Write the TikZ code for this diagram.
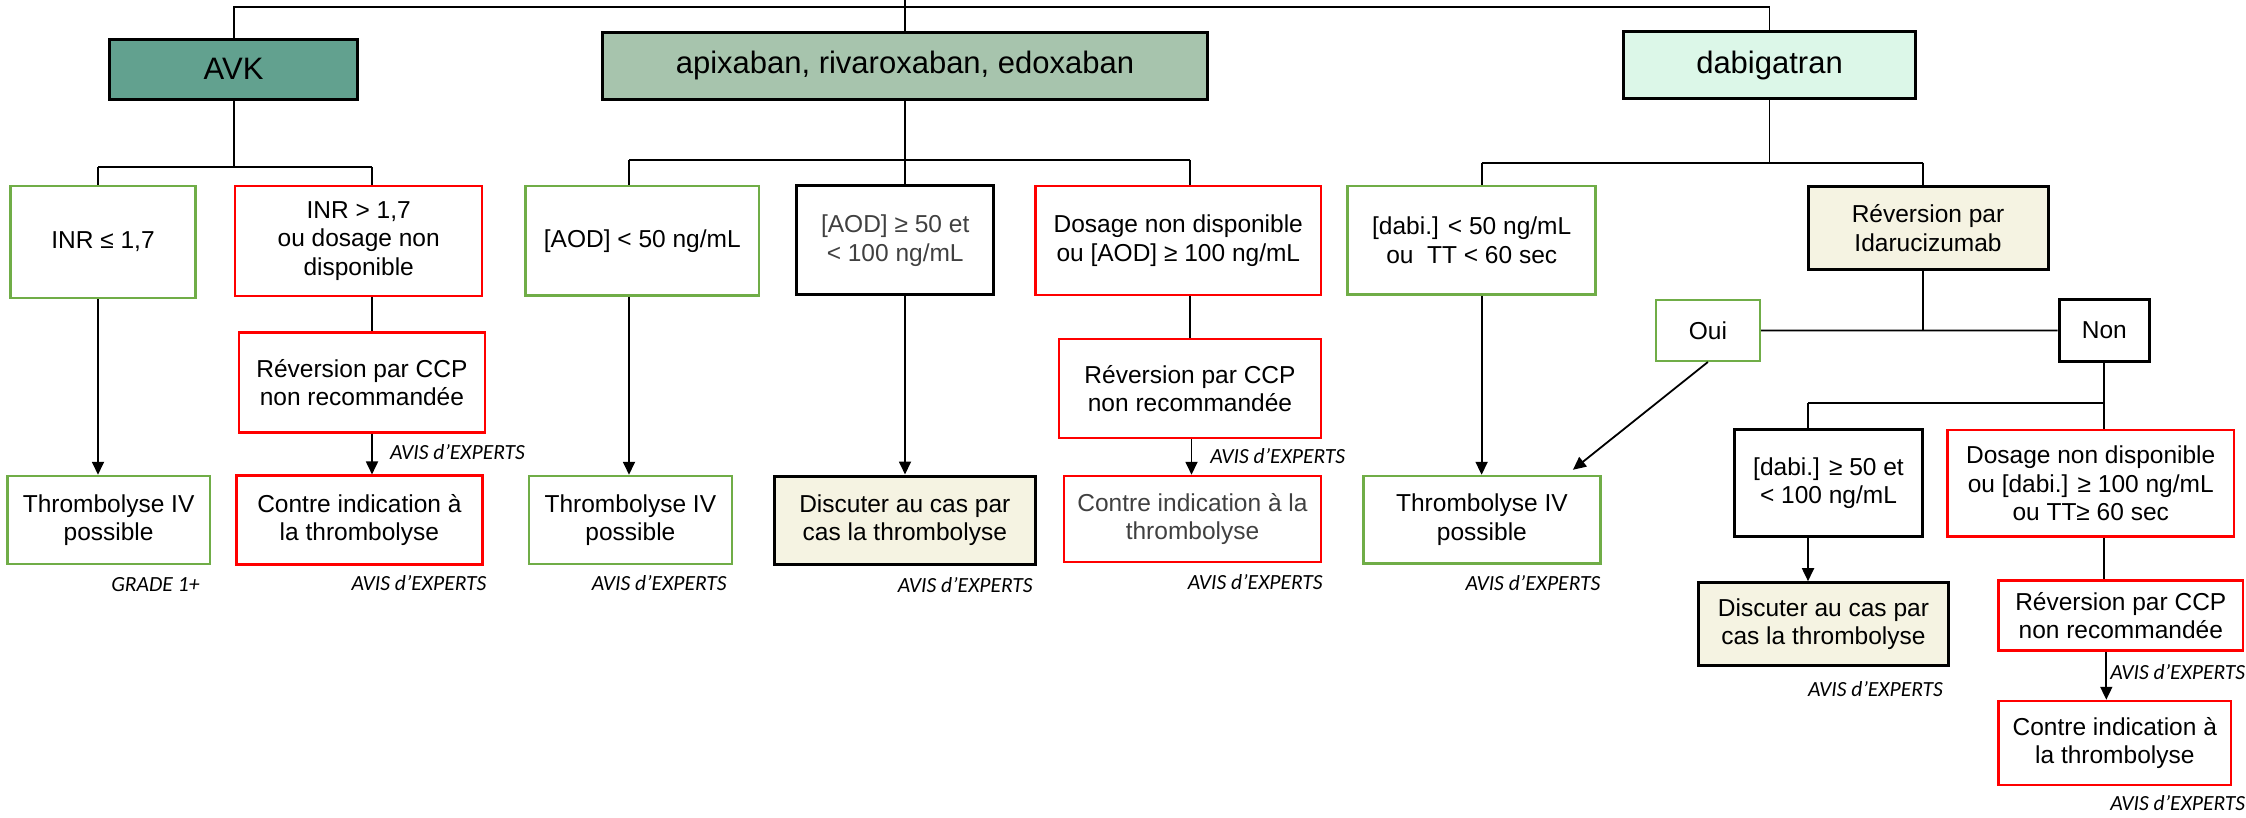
\documentclass[tikz,border=0pt]{standalone}
\usepackage{fontspec}
\setmainfont{Liberation Sans}
\newfontfamily\notefont{Carlito}
\usetikzlibrary{arrows.meta}

\definecolor{avkfill}{HTML}{62A18F}
\definecolor{apixfill}{HTML}{A7C4AD}
\definecolor{dabifill}{HTML}{DCF7E8}
\definecolor{discfill}{HTML}{F5F3E2}
\definecolor{okgreen}{HTML}{70AD47}
\definecolor{stopred}{HTML}{FF0000}
\definecolor{softtext}{HTML}{404040}

\begin{document}
\begin{tikzpicture}[x=1pt,y=-1pt,
  box/.style={draw, line width=2.5pt, align=center, inner sep=2pt,
    font=\fontsize{24.5}{28.5}\selectfont},
  okbox/.style={box, draw=okgreen},
  nobox/.style={box, draw=stopred},
  plainbox/.style={box, draw=black, line width=3pt},
  head/.style={draw=black, line width=3pt, inner sep=2pt,
    font=\fontsize{31}{36}\selectfont},
  link/.style={line width=1.8pt},
  arr/.style={link, -{Triangle[length=13pt,width=12pt]}},
  note/.style={inner sep=0pt, font=\notefont\itshape\fontsize{21.6}{24}\selectfont}
]
\useasboundingbox (0,0) rectangle (2246,818);

% --- headers ---
\node[head, fill=avkfill, minimum width=248pt, minimum height=60pt] (avk) at (233.6,69.3) {AVK};
\node[head, fill=apixfill, minimum width=605pt, minimum height=67pt] (apix) at (905,65.7) {apixaban, rivaroxaban, edoxaban};
\node[head, fill=dabifill, minimum width=292pt, minimum height=67pt] (dabi) at (1769.5,65.2) {dabigatran};

% --- AVK branch ---
\node[okbox, minimum width=184.6pt, minimum height=112pt] (inrle) at (103,242) {INR ≤ 1,7};
\node[nobox, minimum width=247pt, minimum height=110pt] (inrgt) at (358.7,241) {INR > 1,7\\ou dosage non\\disponible};
\node[nobox, minimum width=245.7pt, minimum height=99.6pt] (rev1) at (361.9,382.5) {Réversion par CCP\\non recommandée};
\node[okbox, minimum width=202.6pt, minimum height=88pt] (thr1) at (108.6,520) {Thrombolyse IV\\possible};
\node[nobox, minimum width=245.8pt, minimum height=88.6pt] (ci1) at (359.4,520) {Contre indication à\\la thrombolyse};

% --- apixaban / rivaroxaban / edoxaban branch ---
\node[okbox, minimum width=233.5pt, minimum height=109.7pt] (aod1) at (642.3,240.9) {[AOD] < 50 ng/mL};
\node[plainbox, text=softtext, minimum width=197.3pt, minimum height=109pt] (aod2) at (895.2,240.5) {[AOD] ≥ 50 et\\< 100 ng/mL};
\node[nobox, minimum width=285.5pt, minimum height=109pt] (aod3) at (1178.3,240.5) {Dosage non disponible\\ou [AOD] ≥ 100 ng/mL};
\node[nobox, minimum width=262pt, minimum height=99pt] (rev2) at (1190,388.5) {Réversion par CCP\\non recommandée};
\node[okbox, minimum width=203.2pt, minimum height=88pt] (thr2) at (630.4,520) {Thrombolyse IV\\possible};
\node[plainbox, fill=discfill, minimum width=261.5pt, minimum height=88pt] (disc1) at (904.8,520) {Discuter au cas par\\cas la thrombolyse};
\node[nobox, text=softtext, minimum width=257pt, minimum height=86pt] (ci2) at (1192.5,519) {Contre indication à la\\thrombolyse};

% --- dabigatran branch ---
\node[okbox, minimum width=248pt, minimum height=108.7pt] (dabi1) at (1471.7,240.4) {[dabi.] < 50 ng/mL\\ou\ \ TT < 60 sec};
\node[plainbox, fill=discfill, minimum width=240pt, minimum height=83.3pt] (idaru) at (1928,228.3) {Réversion par\\Idarucizumab};
\node[okbox, minimum width=103.7pt, minimum height=60.7pt] (oui) at (1707.9,330.4) {Oui};
\node[plainbox, minimum width=90.5pt, minimum height=61pt] (non) at (2104.3,330.5) {Non};
\node[okbox, minimum width=237.2pt, minimum height=87.3pt] (thr3) at (1481.9,519.7) {Thrombolyse IV\\possible};
\node[plainbox, minimum width=188.2pt, minimum height=106.7pt] (dabi2) at (1828.5,483.3) {[dabi.] ≥ 50 et\\< 100 ng/mL};
\node[nobox, minimum width=286.6pt, minimum height=106.7pt] (dabi3) at (2090.7,483.3) {Dosage non disponible\\ou [dabi.] ≥ 100 ng/mL\\ou TT≥ 60 sec};
\node[plainbox, fill=discfill, minimum width=249.2pt, minimum height=83pt] (disc2) at (1823.4,624.2) {Discuter au cas par\\cas la thrombolyse};
\node[nobox, minimum width=244.4pt, minimum height=70.4pt] (rev3) at (2120.8,615.5) {Réversion par CCP\\non recommandée};
\node[nobox, minimum width=232.4pt, minimum height=84pt] (ci3) at (2114.8,743) {Contre indication à\\la thrombolyse};

% --- evidence levels ---
\node[note] (n1) at (155.4,585) {GRADE 1+};
\node[note] (n2) at (457.5,452) {AVIS d’EXPERTS};
\node[note] (n3) at (419,583) {AVIS d’EXPERTS};
\node[note] (n4) at (659.3,583) {AVIS d’EXPERTS};
\node[note] (n5) at (965.3,585) {AVIS d’EXPERTS};
\node[note] (n6) at (1277.8,455.7) {AVIS d’EXPERTS};
\node[note] (n7) at (1255.3,581.7) {AVIS d’EXPERTS};
\node[note] (n8) at (1532.9,583) {AVIS d’EXPERTS};
\node[note] (n9) at (1875.5,689) {AVIS d’EXPERTS};
\node[note] (n10) at (2177.8,672.3) {AVIS d’EXPERTS};
\node[note] (n11) at (2177.8,803.3) {AVIS d’EXPERTS};

% --- junction points ---
\coordinate (topL) at (233.6,7.3);
\coordinate (topR) at (1769.5,7.3);
\coordinate (rootA) at (905,0);
\coordinate (avkL) at (98,167);
\coordinate (avkR) at (372,167);
\coordinate (apL) at (629,160);
\coordinate (apR) at (1190,160);
\coordinate (dbL) at (1481.6,162.7);
\coordinate (dbR) at (1922.6,162.7);
\coordinate (nnL) at (1808,402.7);

% --- top bar ---
\draw[link] (avk.north) -- (topL) -- (topR) -- (dabi.north);
\draw[link] (rootA) -- (apix.north);

% --- AVK connectors ---
\draw[link] (avk.south) -- (avk.south |- avkL);
\draw[link] (avkL) -- (avkR);
\draw[link] (avkL) -- (avkL |- inrle.north);
\draw[link] (avkR) -- (avkR |- inrgt.north);
\draw[arr] (avkL |- inrle.south) -- (avkL |- thr1.north);
\draw[link] (avkR |- inrgt.south) -- (avkR |- rev1.north);
\draw[arr] (avkR |- rev1.south) -- (avkR |- ci1.north);

% --- anti-Xa connectors ---
\draw[link] (apix.south) -- (apix.south |- aod2.north);
\draw[link] (apL) -- (apR);
\draw[link] (apL) -- (apL |- aod1.north);
\draw[link] (apR) -- (apR |- aod3.north);
\draw[arr] (apL |- aod1.south) -- (apL |- thr2.north);
\draw[arr] (apix.south |- aod2.south) -- (apix.south |- disc1.north);
\draw[link] (apR |- aod3.south) -- (apR |- rev2.north);
\draw[arr] ([xshift=1.5pt]apR |- rev2.south) -- ([xshift=1.5pt]apR |- ci2.north);

% --- dabigatran connectors ---
\draw[link] (dabi.south) -- (dabi.south |- dbL);
\draw[link] (dbL) -- (dbR);
\draw[link] (dbL) -- (dbL |- dabi1.north);
\draw[link] (dbR) -- (dbR |- idaru.north);
\draw[arr] (dbL |- dabi1.south) -- (dbL |- thr3.north);
\draw[link] (dbR |- idaru.south) -- (dbR |- oui.east);
\draw[link] (oui.east) -- (non.west);
\draw[arr] (oui.south) -- ([xshift=91pt,yshift=5pt]thr3.north);
\draw[link] (non.south) -- (non.south |- nnL);
\draw[link] (nnL) -- (non.south |- nnL);
\draw[link] (nnL) -- (nnL |- dabi2.north);
\draw[link] (non.south |- nnL) -- (non.south |- dabi3.north);
\draw[arr] (nnL |- dabi2.south) -- (nnL |- disc2.north);
\draw[link] (non.south |- dabi3.south) -- (non.south |- rev3.north);
\draw[arr] ([xshift=2pt]non.south |- rev3.south) -- ([xshift=2pt]non.south |- ci3.north);
\end{tikzpicture}
\end{document}
